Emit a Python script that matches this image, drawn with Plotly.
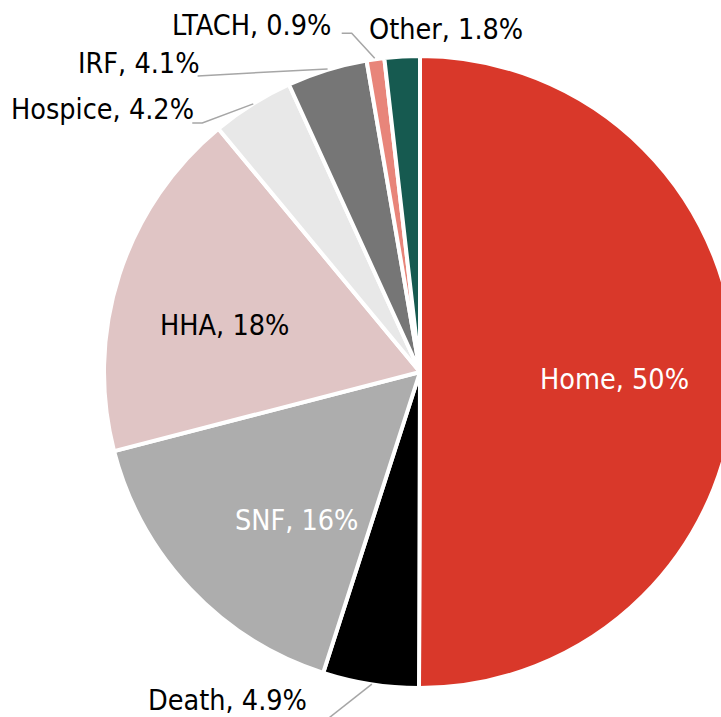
import math
import plotly.graph_objects as go

# ---- data ----
categories = ["Home", "Death", "SNF", "HHA", "Hospice", "IRF", "LTACH", "Other"]
shares = [50, 4.9, 16, 18, 4.2, 4.1, 0.9, 1.8]

# ---- style ----
colors = ["#D9382A", "#000000", "#ADADAD", "#E0C5C5", "#E8E8E8", "#767676", "#E8857A", "#165A50"]
text_colors = ["white", "black", "white", "black", "black", "black", "black", "black"]
FONT = "DejaVu Sans Condensed, DejaVu Sans, sans-serif"
FSIZE = 28.5

W, H = 840, 717          # figure is wider than the window so the pie is cut at the right
CX, CY, R = 420, 372, 314
PIE_R = 316               # drawn radius (white stroke eats a little of the edge)

# label placement: (radius factor, dx, dy) relative to the slice mid-angle point
label_place = [
    (0.62, 0, 7),
    (1.0, -143, 18),
    (0.62, 18, 15),
    (0.62, -10, 13),
    (1.0, -151, 4),
    (1.0, -189, -8),
    (1.0, -124, -36),
    (1.0, 44, -29),
]
# leader lines: list of (dx, dy) points relative to the slice edge point (None = no line)
leaders = [
    None,
    [(1, 2), (-51, 43)],
    None,
    None,
    [(0, -2), (-51, 17), (-61, 17)],
    [(0, -3), (-130, 4)],
    [(-1, -3), (-24, -28), (-34, -28)],
    None,
]

total = sum(shares)


def mid_angle(i):
    return 2 * math.pi * (sum(shares[:i]) + shares[i] / 2) / total


def polar(a, rf):
    return CX + rf * R * math.sin(a), CY - rf * R * math.cos(a)


def px(x):
    return x / W


def py(y):
    return 1 - y / H


fig = go.Figure(
    go.Pie(
        labels=categories,
        values=shares,
        sort=False,
        direction="clockwise",
        rotation=0,
        textinfo="none",
        hoverinfo="label+percent",
        marker=dict(colors=colors, line=dict(color="white", width=4)),
        domain=dict(x=[0, 1], y=[(H - CY - PIE_R) / H, (H - CY + PIE_R) / H]),
        showlegend=False,
    )
)

annotations = []
shapes = []
for i, (cat, v) in enumerate(zip(categories, shares)):
    a = mid_angle(i)
    rf, dx, dy = label_place[i]
    x0, y0 = polar(a, rf)
    annotations.append(
        dict(
            x=px(x0 + dx), y=py(y0 + dy), xref="paper", yref="paper",
            text=f"{cat}, {v:g}%", showarrow=False,
            xanchor="center", yanchor="middle",
            font=dict(family=FONT, size=FSIZE, color=text_colors[i]),
        )
    )
    if leaders[i]:
        ex, ey = polar(a, 1.0)
        pts = [(ex + ddx, ey + ddy) for ddx, ddy in leaders[i]]
        path = "M " + " L ".join(f"{px(x):.5f},{py(y):.5f}" for x, y in pts)
        shapes.append(
            dict(type="path", path=path, xref="paper", yref="paper",
                 line=dict(color="#A6A6A6", width=1.5))
        )

fig.update_layout(
    width=W, height=H, autosize=False,
    margin=dict(l=0, r=0, t=0, b=0),
    paper_bgcolor="white", plot_bgcolor="white",
    annotations=annotations, shapes=shapes,
)

fig.write_html(
    "out.html",
    config={"displayModeBar": False},
    post_script="document.body.style.margin='0';document.body.style.overflow='hidden';"
                "document.documentElement.style.overflow='hidden';",
)
